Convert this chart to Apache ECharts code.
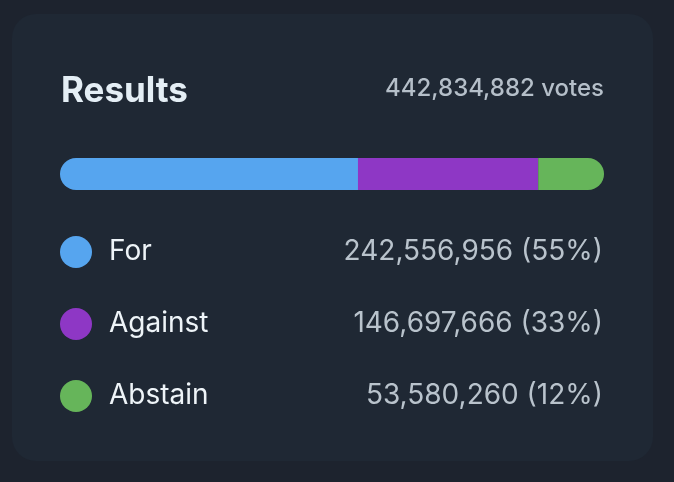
<!DOCTYPE html>
<html>
<head>
<meta charset="utf-8">
<script src="https://cdn.jsdelivr.net/npm/echarts@6/dist/echarts.min.js"></script>
<style>
html,body{margin:0;padding:0;background:#1d232e;}
#chart{width:674px;height:482px;}
</style>
</head>
<body>
<div id="chart"></div>
<script>
const categories = ['For', 'Against', 'Abstain'];
const votes = [242556956, 146697666, 53580260];
const colors = ['#56a5ef', '#8e37c5', '#66b55a'];
const titleText = 'Results';
const votesSuffix = 'votes';

const total = votes.reduce((a, b) => a + b, 0);
const fmt = v => v.toLocaleString('en-US');
const pct = v => Math.round(v / total * 100);
const FONT = 'Inter, "Noto Sans", sans-serif';

const chart = echarts.init(document.getElementById('chart'), null, {renderer: 'canvas'});

const series = categories.map((name, i) => ({
  name: name,
  type: 'bar',
  stack: 'total',
  barWidth: 32,
  data: [votes[i]],
  itemStyle: {
    color: colors[i],
    borderRadius: i === 0 ? [16, 0, 0, 16] : (i === categories.length - 1 ? [0, 16, 16, 0] : 0)
  },
  emphasis: {disabled: true},
  silent: true
}));

chart.setOption({
  backgroundColor: '#1d232e',
  animation: false,
  graphic: [{
    type: 'rect',
    z: -10,
    shape: {x: 12, y: 14, width: 641, height: 447, r: 24},
    style: {fill: '#1f2834'}
  }],
  title: [{
    text: titleText,
    left: 61,
    top: 74,
    padding: 0,
    textStyle: {color: '#e4eef5', fontSize: 35, fontWeight: 'bold', fontFamily: FONT}
  }, {
    text: fmt(total) + ' ' + votesSuffix,
    right: 70,
    top: 77,
    padding: 0,
    textStyle: {color: '#b5bfc9', fontSize: 24, fontWeight: 500, fontFamily: FONT}
  }],
  grid: {left: 60, right: 70, top: 158, height: 32, containLabel: false},
  xAxis: {type: 'value', min: 0, max: total, show: false},
  yAxis: {type: 'category', data: ['votes'], show: false},
  legend: {
    orient: 'vertical',
    left: 60,
    top: 236,
    padding: 0,
    icon: 'circle',
    itemWidth: 32,
    itemHeight: 32,
    itemGap: 40,
    selectedMode: false,
    data: categories,
    formatter: name => {
      const i = categories.indexOf(name);
      return '{n|' + name + '}{v|' + fmt(votes[i]) + ' (' + pct(votes[i]) + '%)}';
    },
    textStyle: {
      padding: [0, 0, 0, 12],
      rich: {
        n: {color: '#eef4f8', fontSize: 28, fontFamily: FONT, width: 200, lineHeight: 32},
        v: {color: '#b9c3cc', fontSize: 28, fontFamily: FONT, width: 294, align: 'right', lineHeight: 32}
      }
    }
  },
  series: series
});
</script>
</body>
</html>
